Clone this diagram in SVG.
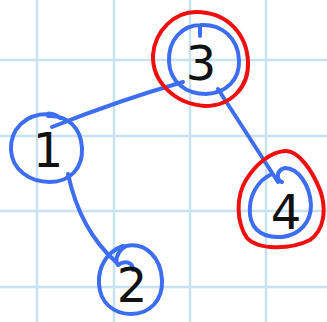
<svg xmlns="http://www.w3.org/2000/svg" width="327" height="322" viewBox="0 0 327 322">
<style>
.grid{stroke:#c8e2f2;stroke-width:2.5;fill:none}
.blue{stroke:#3d6ef2;stroke-width:4;fill:none;stroke-linecap:round;stroke-linejoin:round}
.red{stroke:#ee1010;stroke-width:4;fill:none;stroke-linecap:round;stroke-linejoin:round}
.lbl{font-family:"DejaVu Sans",sans-serif;font-size:48px;fill:#111;text-anchor:middle}
</style>
<rect width="327" height="322" fill="#ffffff"/>
<g id="grid">
<path class="grid" d="M37 0V322M114 0V322M190 0V322M266 0V322M0 60H327M0 136H327M0 211H327M0 287H327"/>
</g>
<g id="connectors">
<path class="blue" d="M183 82 Q120 100 52 127"/>
<path class="blue" d="M218 89 L278 182"/>
<path class="blue" d="M68 174 Q80 230 116 262"/>
</g>
<g id="node3">
<path class="red" d="M196 12 C175 12 155 30 153 55 C152 82 175 104 205 106 C232 106 249 86 248 62 C247 35 228 12 196 12 Z"/>
<path class="blue" d="M201 25 C182 25 168 40 169 62 C170 82 186 94 206 94 C226 93 240 80 239 60 C238 38 222 24 201 25 M200 27 V36"/>
<text class="lbl" x="201" y="80">3</text>
</g>
<g id="node1">
<path class="blue" d="M50 114 C25 113 10 130 11 150 C12 170 30 182 50 182 C70 182 83 168 82 148 C81 128 68 115 48 116 C44 113 54 112 60 118"/>
<text class="lbl" x="48" y="167">1</text>
</g>
<g id="node2">
<path class="blue" d="M123 246 C106 252 98 268 99 284 C100 303 114 314 131 314 C150 314 163 300 162 280 C161 258 146 242 126 246 C116 252 115 262 118 265 C125 260 133 262 133 270"/>
<text class="lbl" x="132" y="302">2</text>
</g>
<g id="node4">
<path class="red" d="M285 151 C270 152 255 165 246 180 C236 196 236 222 247 238 C258 250 290 250 310 240 C324 230 327 210 320 190 C312 170 298 150 285 151 Z"/>
<path class="blue" d="M272 174 C258 180 248 196 250 215 C252 232 266 238 282 237 C300 235 311 222 311 205 C310 185 298 168 285 168 C276 170 276 180 282 182"/>
<text class="lbl" x="286" y="229">4</text>
</g>
</svg>
